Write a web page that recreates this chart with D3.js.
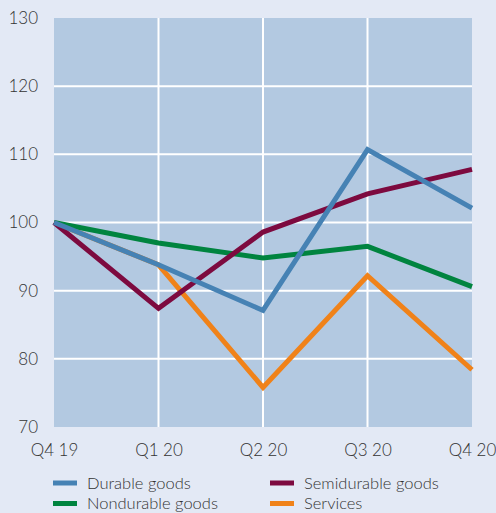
<!DOCTYPE html>
<html><head><meta charset="utf-8">
<script src="https://cdn.jsdelivr.net/npm/d3@7"></script>
<style>
html,body{margin:0;padding:0;background:#e3e9f5;}
svg{display:block;}
text{font-family:Lato,"Open Sans",sans-serif;fill:#333;font-weight:300;}
</style></head><body>
<svg id="c" width="496" height="513"></svg>
<script>
const quarters = ["Q4 19","Q1 20","Q2 20","Q3 20","Q4 20"];
const yTicks = [70,80,90,100,110,120,130];
const durable = [100, 93.8, 87.1, 110.7, 102.1];
const semidurable = [100, 87.4, 98.6, 104.2, 107.8];
const nondurable = [100, 97.0, 94.8, 96.5, 90.6];
const services = [100, 93.8, 75.8, 92.2, 78.4];
const seriesNames = ["Durable goods","Semidurable goods","Nondurable goods","Services"];
const colors = {"Durable goods":"#4682b4","Semidurable goods":"#7d0a3f","Nondurable goods":"#00843f","Services":"#f08219"};

const series = [
  {name:"Services", values:services},
  {name:"Nondurable goods", values:nondurable},
  {name:"Semidurable goods", values:semidurable},
  {name:"Durable goods", values:durable}
];

const svg = d3.select("#c");
const L=54, R=472, T=18, B=427;
const x = d3.scalePoint().domain(quarters).range([L,R]);
const y = d3.scaleLinear().domain([70,130]).range([B,T]);

svg.append("rect").attr("x",L).attr("y",T).attr("width",R-L).attr("height",B-T).attr("fill","#b3c9e1");

// grid
svg.append("g").selectAll("line").data(yTicks.slice(1,-1)).join("line")
  .attr("x1",L).attr("x2",R).attr("y1",d=>y(d)).attr("y2",d=>y(d))
  .attr("stroke","#fff").attr("stroke-width",2);
svg.append("g").selectAll("line").data(quarters.slice(1,-1)).join("line")
  .attr("y1",T).attr("y2",B).attr("x1",d=>x(d)).attr("x2",d=>x(d))
  .attr("stroke","#fff").attr("stroke-width",2);

// y axis
const ya = svg.append("g").attr("transform",`translate(${L},0)`)
  .call(d3.axisLeft(y).tickValues(yTicks).tickSize(0).tickPadding(16));
ya.select(".domain").remove();
ya.selectAll("text").style("font-size","17px").attr("fill","#333").style("font-family","Lato, sans-serif").style("font-weight","300");

// x axis
const xa = svg.append("g").attr("transform",`translate(0,${B})`)
  .call(d3.axisBottom(x).tickSize(0).tickPadding(17));
xa.select(".domain").remove();
xa.selectAll("text").style("font-size","17px").attr("fill","#333").style("font-family","Lato, sans-serif").style("font-weight","300");

// lines
const line = d3.line().x((d,i)=>x(quarters[i])).y(d=>y(d));
svg.append("g").selectAll("path").data(series).join("path")
  .attr("d",d=>line(d.values)).attr("fill","none")
  .attr("stroke",d=>colors[d.name]).attr("stroke-width",5)
  .attr("stroke-linejoin","miter").attr("stroke-linecap","butt");

// legend
const legendPos = [
  {name:"Durable goods", x:53, y:483},
  {name:"Semidurable goods", x:270, y:483},
  {name:"Nondurable goods", x:53, y:503.5},
  {name:"Services", x:270, y:503.5}
];
const lg = svg.append("g").selectAll("g").data(legendPos).join("g")
  .attr("transform",d=>`translate(${d.x},${d.y})`);
lg.append("line").attr("x1",0).attr("x2",24).attr("y1",0).attr("y2",0)
  .attr("stroke",d=>colors[d.name]).attr("stroke-width",5);
lg.append("text").attr("x",34).attr("y",0).attr("dy","0.35em")
  .style("font-size","16.5px").text(d=>d.name);
</script>
</body></html>
